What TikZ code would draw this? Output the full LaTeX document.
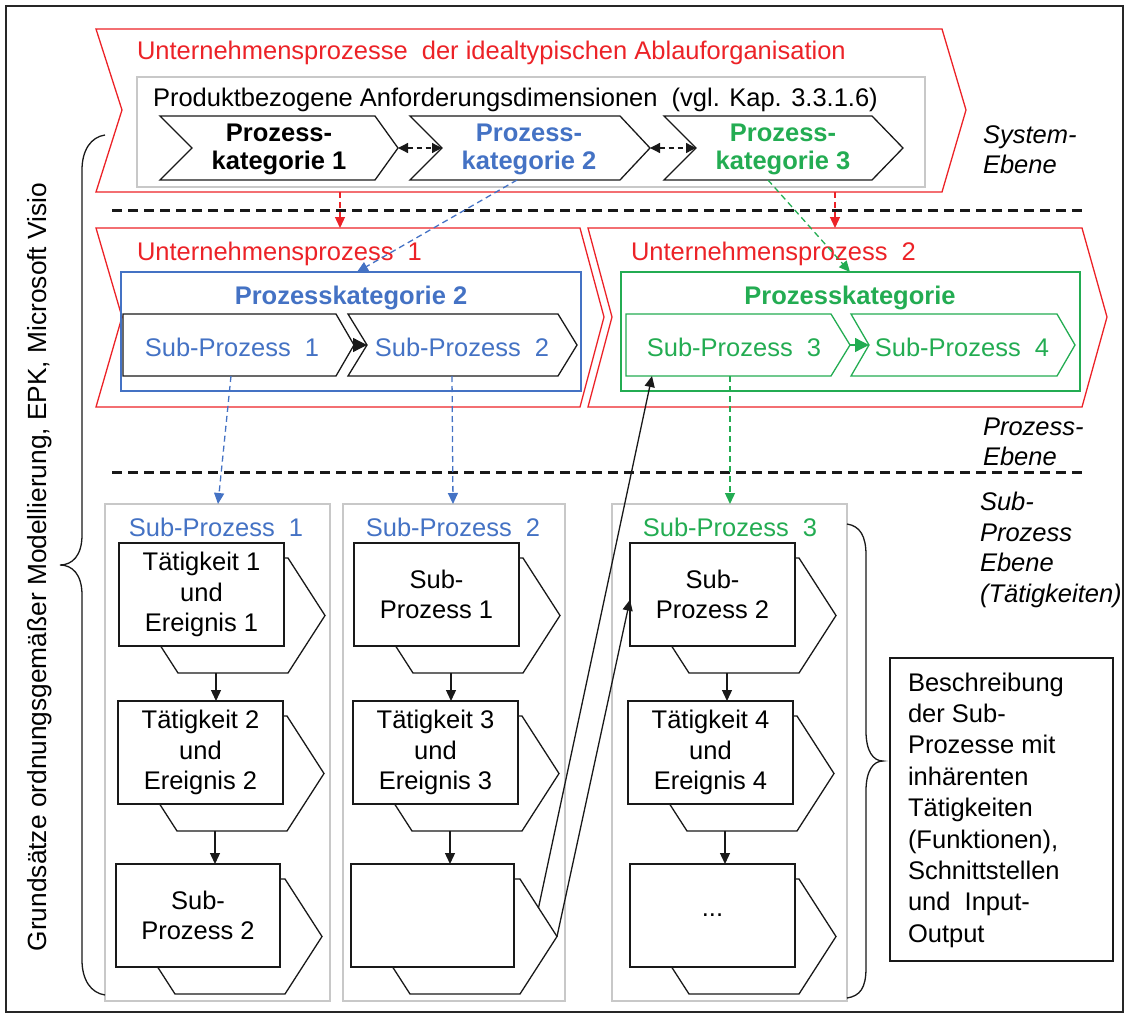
\documentclass[tikz,border=0pt]{standalone}
\usepackage{fontspec}
\setmainfont{Liberation Sans}
\usetikzlibrary{arrows.meta,calc}

\definecolor{redc}{RGB}{236,34,39}
\definecolor{bluec}{RGB}{68,114,196}
\definecolor{greenc}{RGB}{35,172,82}
\definecolor{grayc}{RGB}{200,200,200}

% stacked activity: hexagon behind a framed box
% #1 name, #2 x, #3 y (top left of the box), #4 width, #5 text
\newcommand{\stackproc}[5]{%
  \draw[procline,fill=white] ({#2+59},{#3+15}) coordinate (#1-tl) -- ({#2+169},{#3+15}) coordinate (#1-tr)
    -- ({#2+206},{#3+72.5}) coordinate (#1-tip) -- ({#2+169},{#3+130})
    -- ({#2+59},{#3+130}) -- ({#2+22},{#3+72.5}) -- cycle;
  \node[procbox,minimum width=#4pt,anchor=north west] (#1) at (#2,#3) {#5};
  \coordinate (#1-bot) at ({#2+97},{#3+130});
}

\begin{document}
\begin{tikzpicture}[x=1pt,y=-1pt,
  every node/.style={inner sep=0pt,outer sep=0pt},
  lbl/.style={font=\fontsize{25.5}{30.5}\selectfont,align=center},
  lblb/.style={font=\fontsize{25.5}{28}\selectfont\bfseries,align=center},
  ital/.style={font=\fontsize{25.5}{30.5}\selectfont\itshape,align=left,anchor=west},
  redl/.style={draw=redc,line width=1.3pt},
  procline/.style={draw=black!90,line width=1.3pt},
  procbox/.style={procline,fill=white,minimum height=103pt,
    font=\fontsize{25.5}{30.5}\selectfont,align=center},
  graybox/.style={draw=grayc,line width=1.5pt,anchor=north west},
  flow/.style={draw=black!90,line width=1.3pt,-{Triangle[length=11pt,width=10pt]}},
  dflow/.style={line width=1.3pt,dash pattern=on 6pt off 4pt,-{Triangle[length=11pt,width=10pt]}},
  level/.style={draw=black!90,line width=3pt,dash pattern=on 10pt off 6pt},
  brace/.style={draw=black!90,line width=1.3pt}
]
\useasboundingbox (0,0) rectangle (1128,1017);
\draw[black!85,line width=1.3pt] (6,6) rectangle (1123,1012);

% ---------- system level ----------
\draw[redl] (96,29) -- (942,29) -- (966,110) -- (942,192) -- (96,192) -- (122,110) -- cycle;
\node[lbl,text=redc,anchor=west] (uptitle) at (137,53)
  {Unternehmensprozesse\ \ der idealtypischen Ablauforganisation};
\node[graybox,minimum width=788pt,minimum height=110pt] (dimbox) at (137,77) {};
\node[lbl,anchor=west] (dimtxt) at (153,100)
  {Produktbezogene Anforderungsdimensionen\ \ (vgl. Kap. 3.3.1.6)};

\draw[procline] (160,116) -- (375,116) -- (398,148) coordinate (pk1tip) -- (375,180) -- (160,180) -- (192,148) -- cycle;
\draw[procline] (410,116) -- (620,116) -- (650,148) coordinate (pk2tip) -- (620,180) -- (410,180) -- (442,148) coordinate (pk2in) -- cycle;
\draw[procline] (664,116) -- (872,116) -- (903,148) -- (872,180) -- (664,180) -- (696,148) coordinate (pk3in) -- cycle;
\coordinate (pk2bot) at (517,180);
\coordinate (pk3bot) at (768,180);

\node[lblb] (pk1) at (279,149) {Prozess-\\kategorie 1};
\node[lblb,text=bluec] (pk2) at (529,149) {Prozess-\\kategorie 2};
\node[lblb,text=greenc] (pk3) at (783,149) {Prozess-\\kategorie 3};

\draw[black!90,line width=1.3pt,dash pattern=on 5pt off 4pt,
  {Triangle[length=10pt,width=10pt]}-{Triangle[length=10pt,width=10pt]}] (pk1tip) -- (pk2in);
\draw[black!90,line width=1.3pt,dash pattern=on 5pt off 4pt,
  {Triangle[length=10pt,width=10pt]}-{Triangle[length=10pt,width=10pt]}] (pk2tip) -- (pk3in);

\node[ital] (syslvl) at (983,149.5) {System-\\Ebene};

\coordinate (lvlA1) at (112,210);
\coordinate (lvlA2) at (1085,210);
\draw[level] (lvlA1) -- (lvlA2);

% ---------- process level ----------
\draw[redl] (96,228) coordinate (up1top) -- (580,228) -- (604,317) -- (580,407) -- (96,407) -- (122,317) -- cycle;
\draw[redl] (588,228) -- (1082,228) -- (1107,317) -- (1082,407) -- (588,407) -- (612,317) -- cycle;
\node[lbl,text=redc,anchor=west] (up1) at (137,254) {Unternehmensprozess\ \ 1};
\node[lbl,text=redc,anchor=west] (up2) at (631,254) {Unternehmensprozess\ \ 2};

\node[draw=bluec,line width=1.3pt,minimum width=460pt,minimum height=119pt,anchor=north west] (kbox2) at (121,272) {};
\node[draw=greenc,line width=1.3pt,minimum width=459pt,minimum height=119pt,anchor=north west] (kbox3) at (621,272) {};
\node[lblb,text=bluec] (k2title) at (351,298) {Prozesskategorie 2};
\node[lblb,text=greenc] (k3title) at (850,298) {Prozesskategorie};

\draw[procline] (123,314) -- (336,314) -- (354,345) coordinate (sp1tip) -- (336,376) -- (123,376) -- cycle;
\draw[procline] (348,314) -- (558,314) -- (577,345) -- (558,376) -- (348,376) -- (367,345) coordinate (sp2in) -- cycle;
\draw[draw=greenc,line width=1.3pt] (626,314) -- (831,314) -- (850,345) coordinate (sp3tip) -- (831,376) -- (626,376) -- cycle;
\draw[draw=greenc,line width=1.3pt] (851,314) -- (1057,314) -- (1075,345) -- (1057,376) -- (851,376) -- (869,345) coordinate (sp4in) -- cycle;
\node[lbl,text=bluec] (sp1) at (232,347) {Sub-Prozess\ \ 1};
\node[lbl,text=bluec] (sp2) at (462,347) {Sub-Prozess\ \ 2};
\node[lbl,text=greenc] (sp3) at (734,347) {Sub-Prozess\ \ 3};
\node[lbl,text=greenc] (sp4) at (962,347) {Sub-Prozess\ \ 4};
\draw[flow,-{Triangle[length=14pt,width=14pt]}] (sp1tip) -- (sp2in);
\draw[draw=greenc,line width=1.3pt,-{Triangle[length=14pt,width=14pt]}] (sp3tip) -- (sp4in);

\coordinate (sp1bot) at (231,376);
\coordinate (sp2bot) at (452,376);
\coordinate (sp3bot) at (730,376);
\coordinate (sp3corner) at (652,376);

% links from the system level
\draw[dflow,redc] (340,192) -- (340,228);
\draw[dflow,redc] (835,192) -- (835,228);
\draw[dflow,bluec] (pk2bot) -- (357,272);
\draw[dflow,greenc] (pk3bot) -- (850,272);

\node[ital] (prolvl) at (983,442) {Prozess-\\Ebene};

\coordinate (lvlB1) at (112,472);
\coordinate (lvlB2) at (1085,472);
\draw[level] (lvlB1) -- (lvlB2);

% ---------- sub-process level ----------
\node[graybox,minimum width=225pt,minimum height=497pt] (col1) at (105,504) {};
\node[graybox,minimum width=222pt,minimum height=497pt] (col2) at (343,504) {};
\node[graybox,minimum width=235pt,minimum height=497pt] (col3) at (612,504) {};
\node[lbl,text=bluec] (c1title) at (216,527) {Sub-Prozess\ \ 1};
\node[lbl,text=bluec] (c2title) at (453,527) {Sub-Prozess\ \ 2};
\node[lbl,text=greenc] (c3title) at (730,527) {Sub-Prozess\ \ 3};

\draw[dflow,bluec] (sp1bot) -- (218,504);
\draw[dflow,bluec] (sp2bot) -- (453,504);
\draw[dflow,greenc] (sp3bot) -- (730,504);

\stackproc{a1}{119}{543}{165}{Tätigkeit 1\\und\\Ereignis 1}
\stackproc{a2}{118}{701}{165}{Tätigkeit 2\\und\\Ereignis 2}
\stackproc{a3}{116}{864}{164}{Sub-\\Prozess 2}
\stackproc{b1}{354}{543}{165}{Sub-\\Prozess 1}
\stackproc{b2}{353}{701}{165}{Tätigkeit 3\\und\\Ereignis 3}
\stackproc{b3}{351}{864}{163}{}
\stackproc{c1}{630}{543}{165}{Sub-\\Prozess 2}
\stackproc{c2}{628}{701}{165}{Tätigkeit 4\\und\\Ereignis 4}
\stackproc{c3}{630}{864}{165}{...}

\draw[flow] (a1-bot) -- (a1-bot |- a2.north);
\draw[flow] (a2-bot) -- (a2-bot |- a3.north);
\draw[flow] (b1-bot) -- (b1-bot |- b2.north);
\draw[flow] (b2-bot) -- (b2-bot |- b3.north);
\draw[flow] (c1-bot) -- (c1-bot |- c2.north);
\draw[flow] (c2-bot) -- (c2-bot |- c3.north);

% hand-over from the last sub-process
\draw[flow] ($(b3-tr)!0.5!(b3-tip)$) -- (sp3corner);
\draw[flow] (b3-tip) -- ($(c1.north west)!0.55!(c1.south west)$);

\node[ital] (sublvl) at (980,550) {Sub-\\Prozess\\Ebene\\(Tätigkeiten)};

% braces
\draw[brace] (105,135) .. controls (91,137) and (82,150) .. (82,170) -- (82,535)
  .. controls (82,556) and (72,565) .. (60,565) .. controls (72,565) and (82,574) .. (82,595)
  -- (82,960) .. controls (82,980) and (91,993) .. (105,995);
\draw[brace] (847,524) .. controls (860,526) and (866,536) .. (866,555) -- (866,731)
  .. controls (866,751) and (873,761) .. (883,761) .. controls (873,761) and (866,771) .. (866,791)
  -- (866,968) .. controls (866,988) and (860,996) .. (847,998);

\node[font=\fontsize{26.3}{30}\selectfont,rotate=90] (gom) at (40,567) {Grundsätze ordnungsgemäßer Modellierung, EPK, Microsoft Visio};

\node[procline,minimum width=223pt,minimum height=303pt,anchor=north west] (descbox) at (890,658) {};
\node[font=\fontsize{25.5}{31.4}\selectfont,align=left,anchor=west] (desc) at (908,810)
  {Beschreibung\\der Sub-\\Prozesse mit\\inhärenten\\Tätigkeiten\\(Funktionen),\\Schnittstellen\\und\ \ Input-\\Output};
\end{tikzpicture}
\end{document}
